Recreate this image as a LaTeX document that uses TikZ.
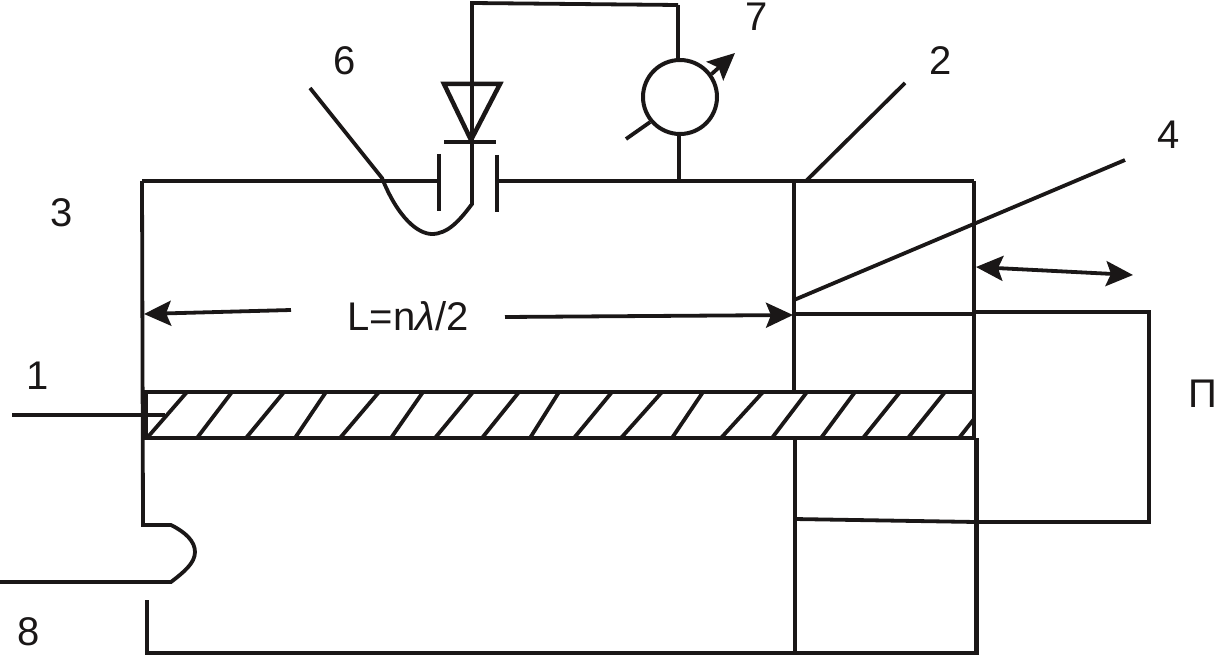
\documentclass[tikz,border=0pt]{standalone}
\usepackage{fontspec}
\setmainfont{Liberation Sans}
\usetikzlibrary{arrows.meta}
\definecolor{tinta}{HTML}{1A1717}
\tikzset{
    linea/.style={draw=tinta,line width=3.8pt},
    punta/.style={Stealth[length=27pt,width=25pt,inset=5pt]},
    flecha/.style={linea,-{Stealth[length=27pt,width=25pt,inset=5pt]}},
    dobleflecha/.style={linea,{Stealth[length=27pt,width=25pt,inset=5pt]}-{Stealth[length=27pt,width=25pt,inset=5pt]}},
    rotulo/.style={text=tinta,font=\fontsize{40}{40}\selectfont,inner sep=0pt},
}
\begin{document}
\begin{tikzpicture}[x=1pt,y=-1pt]
    \useasboundingbox (0,0) rectangle (1218,658);

    % Puntos de la cavidad
    \coordinate (a sup) at (142,181);
    \coordinate (b sup) at (974,181);
    \coordinate (m sup) at (794,181);
    \coordinate (a med) at (143,392);
    \coordinate (b med) at (974,392);
    \coordinate (m med) at (794,392);
    \coordinate (a inf) at (143,438);
    \coordinate (b inf) at (976,438);
    \coordinate (m inf) at (795,438);

    % Rotulos
    \node[rotulo] (n1) at (38,376) {1};
    \node[rotulo] (n2) at (941,61) {2};
    \node[rotulo] (n3) at (62,213) {3};
    \node[rotulo] (n4) at (1169,135) {4};
    \node[rotulo] (n6) at (345,61) {6};
    \node[rotulo] (n7) at (757,17) {7};
    \node[rotulo] (n8) at (29,632) {8};
    \node[rotulo] (longitud) at (408,316) {L=n\textit{λ}/2};
    \node[rotulo,anchor=west] (piezo) at (1188,394) {П};

    % Pared izquierda y espiga de acoplo
    \coordinate (acoplo a) at (143,525);
    \coordinate (acoplo b) at (171,525);
    \coordinate (acoplo c) at (171,582);
    \coordinate (guia) at (0,582);
    \draw[linea] (a sup) -- (acoplo a) -- (acoplo b)
        .. controls (185,532) and (195,541) .. (195,552)
        .. controls (195,563) and (184,572) .. (acoplo c) -- (guia);
    \draw[linea] (147,600) -- (147,653) -- (975,653);
    \draw[line width=5pt,draw=tinta] (145,392) -- (145,438);

    % Pared superior, con el hueco del diodo
    \coordinate (placa a) at (439,181);
    \coordinate (placa b) at (497,181);
    \draw[linea] (a sup) -- (placa a);
    \draw[linea] (placa b) -- (b sup);
    \draw[linea] (439,154) -- (439,211);
    \draw[linea] (497,155) -- (497,212);

    % Piston
    \draw[linea] (m sup) -- (m med);
    \draw[linea] (b sup) -- (b med) -- (974,438);
    \draw[linea] (m inf) -- (795,655);
    \draw[line width=5pt,draw=tinta] (b inf) -- (976,655);
    \draw[linea] (a med) -- (b med);
    \draw[linea] (a inf) -- (b inf);

    % Rayado
    \foreach \xb/\xt in {147/187,197/232,246/284,295/326,340/379,391/423,435/473,482/519,530/559,
        574/612,621/662,672/703,721/763,772/807,821/855,863/900,908/945}
    \draw[linea] (\xb,438) -- (\xt,392);
    \draw[linea] (959,438) -- (974,419);

    % Medidor
    \node[circle,draw=tinta,line width=4pt,minimum size=74pt,inner sep=0pt] (medidor) at (680,97) {};
    \coordinate (base medidor) at (679,181);
    \coordinate (ret a) at (472,3);
    \coordinate (ret b) at (678,5);
    \draw[linea] (medidor.south -| base medidor) -- (base medidor);
    \draw[linea] (ret b) -- (medidor.north -| ret b);
    \coordinate (aguja a) at (626,139);
    \coordinate (aguja b) at (735,53);
    \draw[linea] (aguja a) -- (medidor.220);
    \draw[flecha] (medidor.36) -- (aguja b);

    % Diodo y sonda
    \coordinate (sonda a) at (310,88);
    \coordinate (sonda b) at (382,178);
    \coordinate (sonda c) at (472,204);
    \draw[linea] (sonda a) -- (sonda b)
        .. controls (398,218) and (418,234) .. (432,234)
        .. controls (448,234) and (460,220) .. (sonda c) -- (ret a) -- (ret b);
    \draw[line width=4.5pt,draw=tinta,line join=miter] (444,84) -- (500,84) -- (471,140) -- cycle;
    \draw[line width=4pt,draw=tinta] (444,142) -- (496,142);

    % Conexion del piezo
    \coordinate (pz a) at (974,312);
    \coordinate (pz b) at (1149,312);
    \coordinate (pz c) at (1149,522);
    \coordinate (pz d) at (976,522);
    \draw[linea] (pz a) -- (pz b) -- (pz c) -- (pz d) -- (794,519);
    \draw[linea] (794,314) -- (974,314);

    % Lineas de referencia
    \draw[linea] (12,415) -- (165,415);
    \draw[linea] (806,181) -- (905,83);
    \draw[linea] (794,300) -- (1125,160);

    % Flechas
    \draw[flecha] (291,310) -- (144,314);
    \draw[flecha] (505,317) -- (793,315);
    \draw[dobleflecha] (976,267) -- (1133,275);
\end{tikzpicture}
\end{document}
